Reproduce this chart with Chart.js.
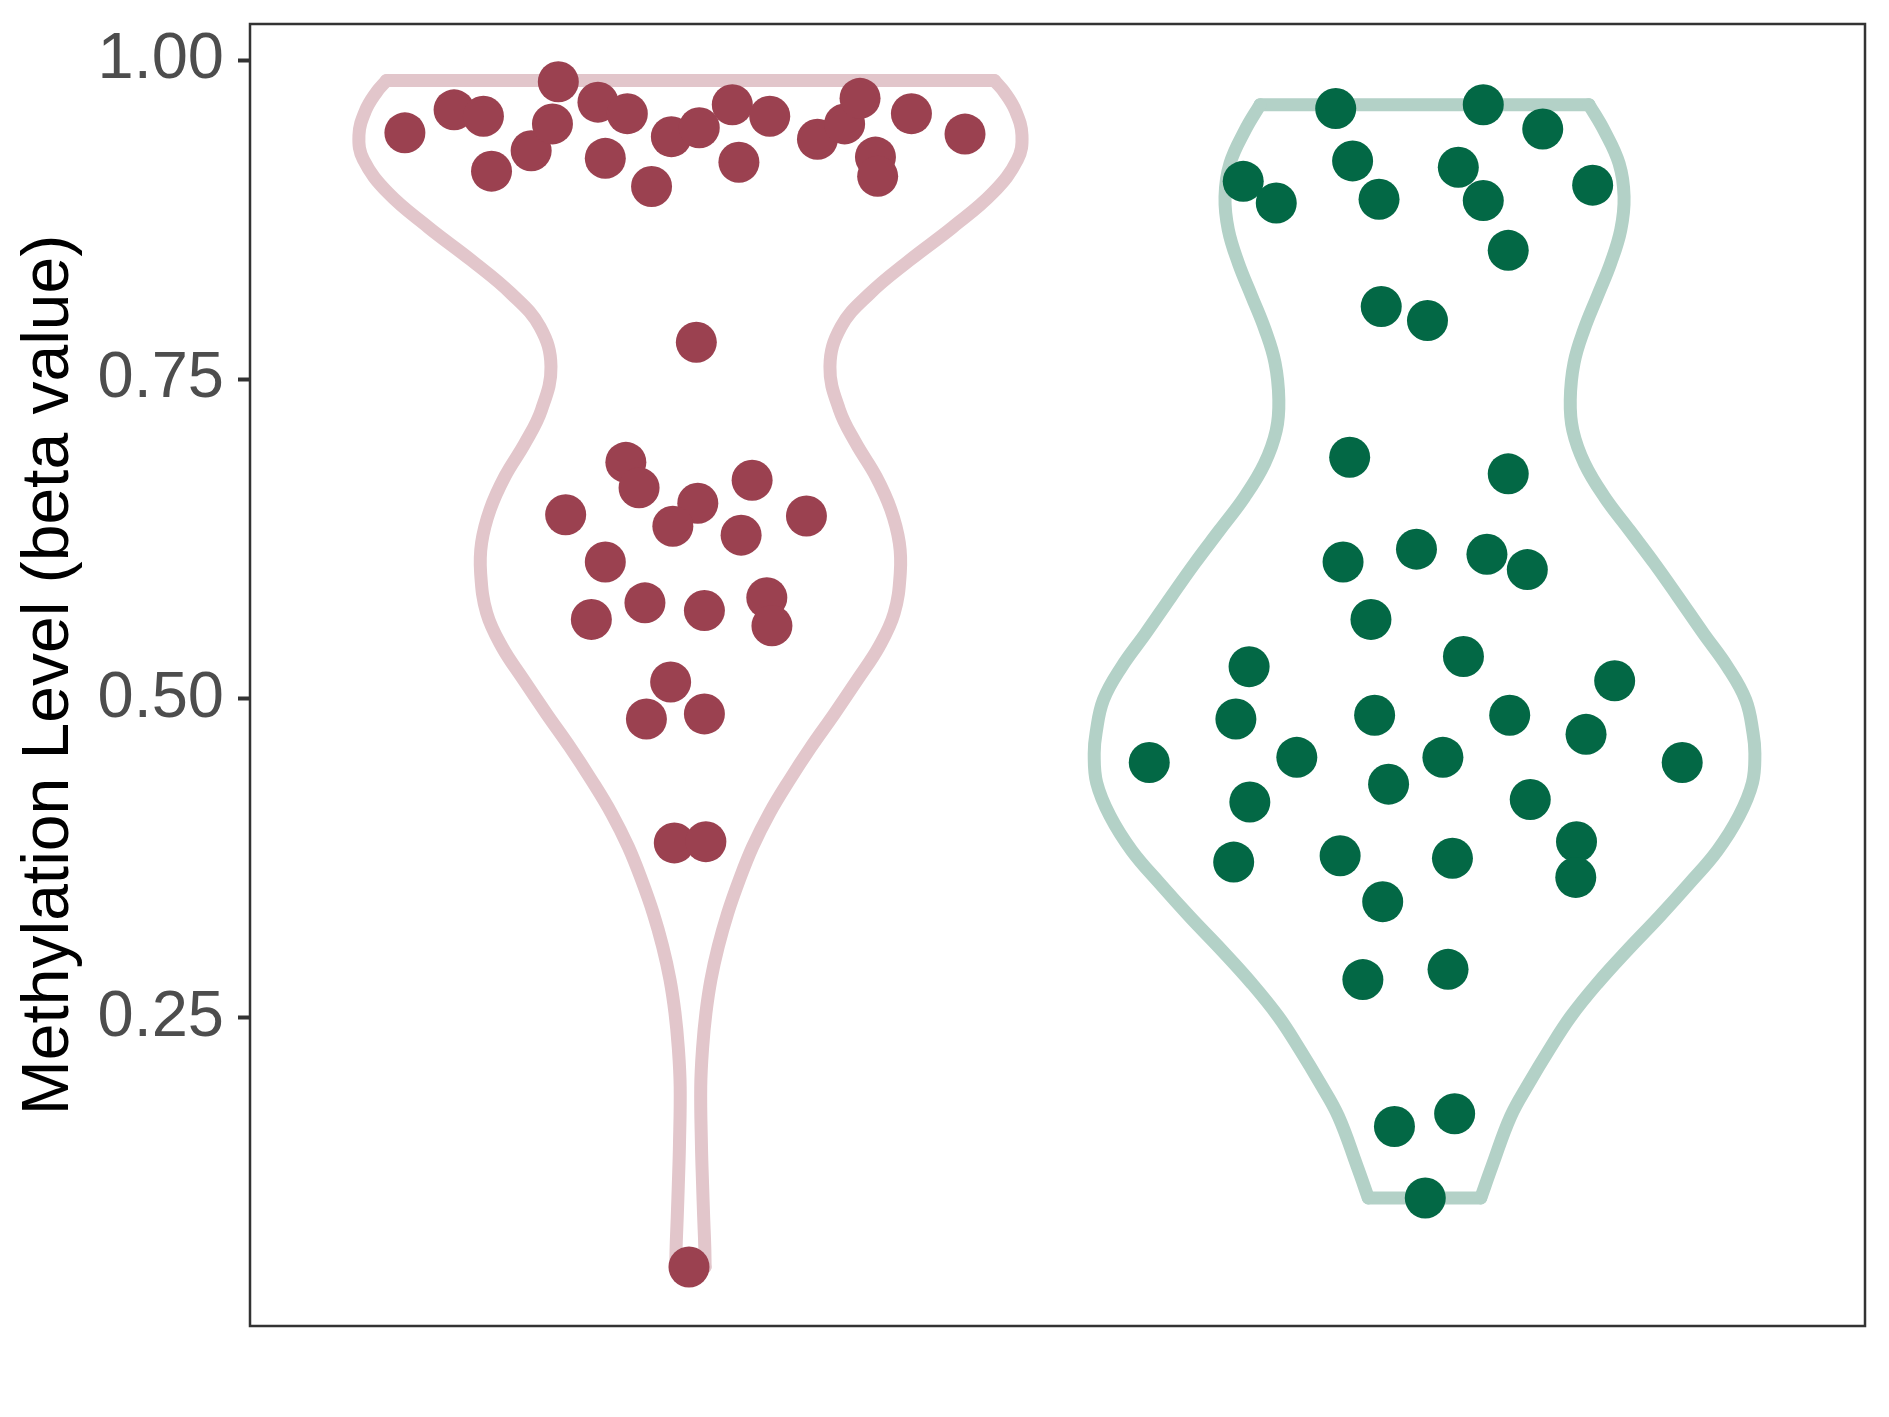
<!DOCTYPE html>
<html>
<head>
<meta charset="UTF-8">
<title>Methylation violin</title>
<style>
  html, body { margin: 0; padding: 0; background: #fff; }
  #wrap { width: 1889px; height: 1417px; }
</style>
</head>
<body>
<div id="wrap"><canvas id="chart" width="1889" height="1417"></canvas></div>

<script src="https://cdn.jsdelivr.net/npm/chart.js"></script>
<script>
// jittered points (x = jittered category position)
const leftX = [0.611, 0.678, 0.718, 0.729, 0.783, 0.812, 0.820, 0.874, 0.914, 0.884, 0.947, 0.974,
  1.012, 1.057, 1.066, 1.108, 1.173, 1.210, 1.231, 1.252, 1.255, 1.301, 1.374,
  1.008, 0.912, 0.930, 0.830, 1.010, 0.976, 1.084, 1.069, 1.158, 0.884, 0.865, 0.938,
  1.019, 1.104, 1.111, 0.973, 0.940, 1.019, 0.978, 1.021, 0.998];
const leftY = [0.943, 0.961, 0.956, 0.913, 0.929, 0.950, 0.983, 0.967, 0.958, 0.923, 0.901, 0.940,
  0.947, 0.965, 0.920, 0.956, 0.938, 0.950, 0.970, 0.924, 0.909, 0.958, 0.942,
  0.779, 0.685, 0.665, 0.644, 0.653, 0.635, 0.671, 0.628, 0.643, 0.607, 0.562, 0.575,
  0.569, 0.579, 0.557, 0.513, 0.484, 0.488, 0.387, 0.388, 0.055];

const rightX = [1.879, 2.080, 2.161, 1.902, 2.046, 1.753, 1.798, 1.938, 2.080, 2.229, 2.114, 1.941, 2.004,
  1.898, 2.114, 1.889, 1.989, 2.085, 2.140, 1.927, 1.761, 2.053, 2.259, 1.743, 1.932, 2.116, 2.220,
  1.625, 1.826, 2.025, 2.351, 1.951, 1.762, 2.144, 2.207, 1.740, 1.885, 2.038, 2.206, 1.943,
  1.916, 2.032, 1.959, 2.041, 2.001];
const rightY = [0.962, 0.965, 0.946, 0.921, 0.916, 0.905, 0.888, 0.891, 0.890, 0.902, 0.851, 0.807, 0.796,
  0.689, 0.676, 0.607, 0.617, 0.613, 0.601, 0.562, 0.525, 0.533, 0.514, 0.484, 0.487, 0.487, 0.472,
  0.450, 0.454, 0.454, 0.450, 0.433, 0.419, 0.421, 0.388, 0.372, 0.377, 0.375, 0.360, 0.341,
  0.280, 0.288, 0.165, 0.175, 0.109];

// violin outlines: beta levels and half widths (in category units)
const leftLevels = [0.055, 0.071, 0.094, 0.12, 0.15, 0.196, 0.227, 0.254, 0.280, 0.306, 0.332, 0.358,
  0.384, 0.410, 0.436, 0.462, 0.488, 0.515, 0.541, 0.567, 0.598, 0.622, 0.648, 0.674, 0.700, 0.726,
  0.760, 0.791, 0.817, 0.843, 0.869, 0.896, 0.922, 0.941, 0.960, 0.975, 0.984];
const leftHalf = [0.020, 0.0195, 0.018, 0.0165, 0.015, 0.0140, 0.0166, 0.0211, 0.0279, 0.0379, 0.0507, 0.0665,
  0.0847, 0.1074, 0.1346, 0.1641, 0.1959, 0.2277, 0.2572, 0.2776, 0.2858, 0.2845, 0.273, 0.2527, 0.2254, 0.2030,
  0.1900, 0.2050, 0.244, 0.298, 0.357, 0.412, 0.4455, 0.4516, 0.443, 0.4275, 0.414];

const rightLevels = [0.109, 0.134, 0.173, 0.199, 0.225, 0.251, 0.277, 0.303, 0.329, 0.355, 0.381, 0.408,
  0.434, 0.457, 0.473, 0.499, 0.525, 0.551, 0.580, 0.606, 0.632, 0.658, 0.684, 0.710, 0.734, 0.763,
  0.789, 0.815, 0.841, 0.867, 0.893, 0.919, 0.945, 0.965];
const rightHalf = [0.0766, 0.0920, 0.1174, 0.1424, 0.1696, 0.1991, 0.2354, 0.2763, 0.3194, 0.3603, 0.3989, 0.4284,
  0.4466, 0.450, 0.4475, 0.4375, 0.4125, 0.3800, 0.345, 0.313, 0.279, 0.2450, 0.2180, 0.2020, 0.1985, 0.2037,
  0.2173, 0.2354, 0.2536, 0.2673, 0.2718, 0.265, 0.2445, 0.224];

const yTicks = [0.25, 0.50, 0.75, 1.00];

// one violin = two smooth sides + straight top and bottom edges
function violin(center, levels, half, color) {
  const n = levels.length - 1;
  const right = levels.map((v, i) => ({x: center + half[i], y: v}));
  const left = levels.map((v, i) => ({x: center - half[i], y: v}));
  const base = { showLine: true, pointRadius: 0, borderColor: color, borderWidth: 13,
    borderCapStyle: 'round', borderJoinStyle: 'round', fill: false };
  return [
    Object.assign({}, base, { data: right, tension: 0.4 }),
    Object.assign({}, base, { data: left, tension: 0.4 }),
    Object.assign({}, base, { data: [left[n], right[n]], tension: 0 }),
    Object.assign({}, base, { data: [left[0], right[0]], tension: 0 })
  ];
}
const toPts = (xs, ys) => xs.map((x, i) => ({x: x, y: ys[i]}));

const panelBorder = {
  id: 'panelBorder',
  afterDraw(chart) {
    const a = chart.chartArea, c = chart.ctx;
    c.save();
    c.strokeStyle = '#333333';
    c.lineWidth = 2.5;
    c.strokeRect(a.left, a.top, a.right - a.left, a.bottom - a.top);
    c.restore();
  }
};

new Chart(document.getElementById('chart'), {
  type: 'scatter',
  data: {
    datasets: [
      { data: toPts(leftX, leftY), backgroundColor: '#9B4150', pointRadius: 20.5, pointBorderWidth: 0 },
      { data: toPts(rightX, rightY), backgroundColor: '#036845', pointRadius: 20.5, pointBorderWidth: 0 }
    ].concat(violin(1, leftLevels, leftHalf, '#E2C6CB'), violin(2, rightLevels, rightHalf, '#B3D1C7'))
  },
  options: {
    responsive: false,
    animation: false,
    layout: { padding: { top: 24, right: 24, bottom: 91, left: 0 } },
    plugins: { legend: { display: false }, tooltip: { enabled: false } },
    scales: {
      x: { type: 'linear', min: 0.4, max: 2.6, display: false },
      y: {
        type: 'linear', min: 0.00877, max: 1.0282,
        afterBuildTicks: s => { s.ticks = yTicks.map(v => ({value: v})); },
        afterFit: s => { s.width = 250; s.paddingTop = 0; s.paddingBottom = 0; },
        ticks: {
          callback: v => v.toFixed(2),
          font: { family: 'Liberation Sans', size: 65 },
          color: '#4D4D4D',
          padding: 14
        },
        grid: { drawOnChartArea: false, drawTicks: true, tickLength: 12, tickWidth: 4, tickColor: '#333333' },
        border: { display: false },
        title: {
          display: true,
          text: 'Methylation Level (beta value)',
          font: { family: 'Liberation Sans', size: 66 },
          color: '#000000',
          padding: { top: 10, bottom: 0 }
        }
      }
    }
  },
  plugins: [panelBorder]
});
</script>
</body>
</html>
